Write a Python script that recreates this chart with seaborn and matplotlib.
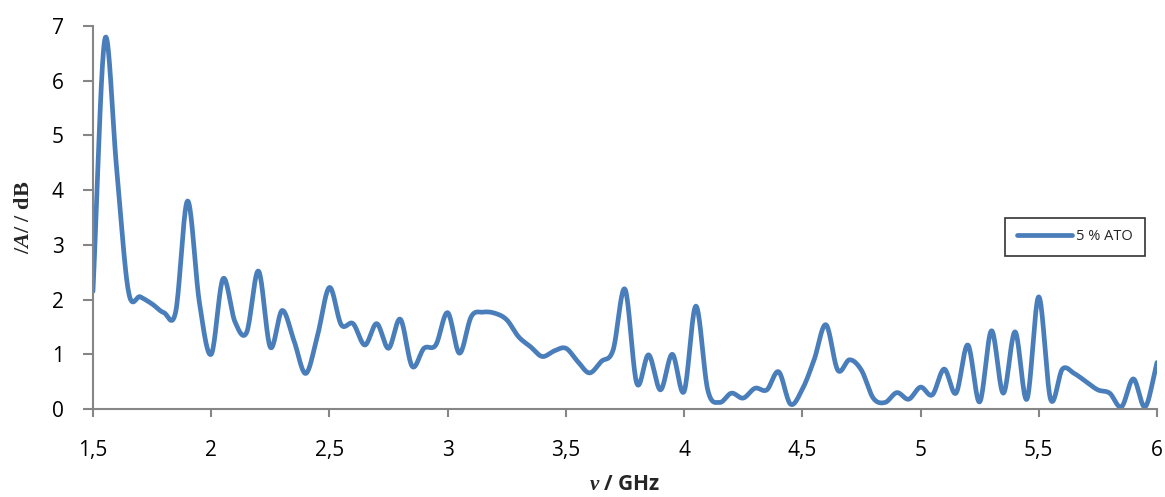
import numpy as np
import pandas as pd
import matplotlib
matplotlib.use("Agg")
import matplotlib.pyplot as plt
import seaborn as sns

# frequency points (GHz) and attenuation (dB)
freq_ghz = [
    1.50, 1.55, 1.60, 1.65, 1.70, 1.75, 1.80, 1.85, 1.90, 1.95,
    2.00, 2.05, 2.10, 2.15, 2.20, 2.25, 2.30, 2.35, 2.40, 2.45,
    2.50, 2.55, 2.60, 2.65, 2.70, 2.75, 2.80, 2.85, 2.90, 2.95,
    3.00, 3.05, 3.10, 3.15, 3.20, 3.25, 3.30, 3.35, 3.40, 3.45,
    3.50, 3.55, 3.60, 3.65, 3.70, 3.75, 3.80, 3.85, 3.90, 3.95,
    4.00, 4.05, 4.10, 4.15, 4.20, 4.25, 4.30, 4.35, 4.40, 4.45,
    4.50, 4.55, 4.60, 4.65, 4.70, 4.75, 4.80, 4.85, 4.90, 4.95,
    5.00, 5.05, 5.10, 5.15, 5.20, 5.25, 5.30, 5.35, 5.40, 5.45,
    5.50, 5.55, 5.60, 5.65, 5.70, 5.75, 5.80, 5.85, 5.90, 5.95,
    6.00,
]
atten_db = [
    2.15, 6.75, 4.40, 2.15, 2.05, 1.92, 1.76, 1.78, 3.80, 1.95,
    1.00, 2.38, 1.60, 1.40, 2.52, 1.13, 1.80, 1.25, 0.65, 1.35,
    2.22, 1.54, 1.56, 1.17, 1.56, 1.11, 1.64, 0.78, 1.11, 1.17,
    1.76, 1.02, 1.69, 1.77, 1.75, 1.63, 1.32, 1.14, 0.96, 1.06,
    1.11, 0.87, 0.66, 0.87, 1.08, 2.19, 0.47, 0.99, 0.35, 1.00,
    0.32, 1.88, 0.35, 0.12, 0.29, 0.20, 0.38, 0.35, 0.68, 0.09,
    0.36, 0.90, 1.54, 0.71, 0.90, 0.71, 0.20, 0.12, 0.30, 0.18,
    0.40, 0.26, 0.73, 0.29, 1.17, 0.13, 1.43, 0.29, 1.41, 0.18,
    2.05, 0.18, 0.73, 0.65, 0.50, 0.35, 0.29, 0.04, 0.55, 0.04,
    0.85,
]
series_name = "5 % ATO"

x_ticks = [1.5, 2, 2.5, 3, 3.5, 4, 4.5, 5, 5.5, 6]
x_tick_labels = ["1,5", "2", "2,5", "3", "3,5", "4", "4,5", "5", "5,5", "6"]
y_ticks = [0, 1, 2, 3, 4, 5, 6, 7]


def smooth_curve(x, y, n_sub=20):
    """Catmull-Rom spline through the points (like a 'smoothed line' chart)."""
    x = np.asarray(x, float)
    y = np.asarray(y, float)
    px = np.concatenate([[2 * x[0] - x[1]], x, [2 * x[-1] - x[-2]]])
    py = np.concatenate([[2 * y[0] - y[1]], y, [2 * y[-1] - y[-2]]])
    t = np.linspace(0, 1, n_sub, endpoint=False)
    xs, ys = [], []
    for i in range(1, len(px) - 2):
        for arr, out in ((px, xs), (py, ys)):
            p0, p1, p2, p3 = arr[i - 1], arr[i], arr[i + 1], arr[i + 2]
            out.append(0.5 * ((2 * p1) + (-p0 + p2) * t
                              + (2 * p0 - 5 * p1 + 4 * p2 - p3) * t ** 2
                              + (-p0 + 3 * p1 - 3 * p2 + p3) * t ** 3))
    xs.append([x[-1]])
    ys.append([y[-1]])
    return np.concatenate(xs), np.concatenate(ys)


sx, sy = smooth_curve(freq_ghz, atten_db)
df = pd.DataFrame({"freq": sx, "att": sy, "series": series_name})

sns.set_theme(style="ticks")
plt.rcParams["font.family"] = ["Open Sans", "DejaVu Sans"]
plt.rcParams["mathtext.fontset"] = "custom"
plt.rcParams["mathtext.it"] = "Liberation Serif:italic:bold"
plt.rcParams["mathtext.rm"] = "Liberation Serif:bold"

fig = plt.figure(figsize=(11.65, 4.97), dpi=100)
ax = fig.add_axes([0.0798, 0.177, 0.9133, 0.771])

sns.lineplot(data=df, x="freq", y="att", hue="series", sort=False,
             palette=["#4A7EBB"], linewidth=3.4, ax=ax, estimator=None)

ax.set_xlim(1.5, 6)
ax.set_ylim(0, 7)
ax.set_xticks(x_ticks)
ax.set_xticklabels(x_tick_labels)
ax.set_yticks(y_ticks)

grey = "#868686"
for side in ("top", "right"):
    ax.spines[side].set_visible(False)
for side in ("left", "bottom"):
    ax.spines[side].set_color(grey)
    ax.spines[side].set_linewidth(1.5)
ax.tick_params(axis="both", which="major", direction="out", colors=grey,
               labelcolor="black", labelsize=15, width=1.5)
ax.tick_params(axis="y", length=7, pad=14)
ax.tick_params(axis="x", length=6, pad=16)

ax.set_xlabel(r"$\mathit{ν}$ / GHz", fontsize=15, fontweight="bold", labelpad=10)
ax.set_ylabel(r"$\mathit{/A/}$ / dB", fontsize=16, fontweight="bold",
              family="Liberation Serif", labelpad=13)

leg = ax.legend(loc="center right", bbox_to_anchor=(0.99, 0.449),
                fontsize=10.5, frameon=True, fancybox=False, handlelength=3.8,
                borderpad=0.8, handletextpad=0.3, borderaxespad=0.1)
leg.get_frame().set_edgecolor("black")
leg.get_frame().set_linewidth(1.2)
for line in leg.get_lines():
    line.set_linewidth(3.4)

fig.savefig("out.png", dpi=100)
